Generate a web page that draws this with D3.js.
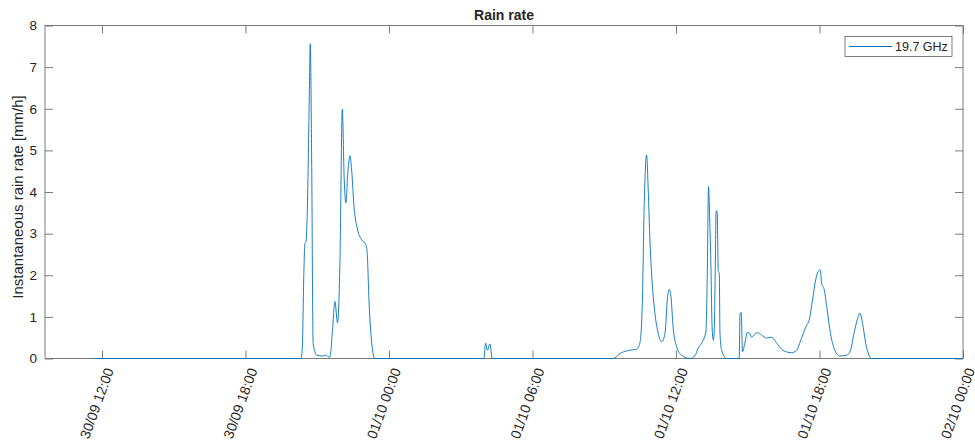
<!DOCTYPE html>
<html>
<head>
<meta charset="utf-8">
<script src="https://d3js.org/d3.v7.min.js"></script>
<style>
  body { margin: 0; background: #fff; }
  text { font-family: "Liberation Sans", Arial, sans-serif; fill: #262626; }
</style>
</head>
<body>
<div id="chart"></div>
<script>
// hours since 30/09 00:00
const hours = [11.67, 20.32, 20.38, 20.44, 20.49, 20.53, 20.58, 20.67, 20.71, 20.77,
  20.83, 20.98, 21.24, 21.35, 21.53, 21.64, 21.74, 21.85, 21.95, 22.05,
  22.13, 22.20, 22.27, 22.37, 22.44, 22.54, 22.69, 22.86, 23.04, 23.09,
  23.17, 23.28, 23.41,
  27.97, 28.04, 28.12, 28.22, 28.32,
  33.38, 33.66, 34.07, 34.35, 34.49, 34.59, 34.67, 34.77, 34.84, 34.91,
  34.98, 35.12, 35.26, 35.40, 35.54, 35.65, 35.72, 35.79, 35.88, 36.03,
  36.23, 36.58, 36.79, 36.93, 37.07, 37.25, 37.31, 37.36, 37.42, 37.46,
  37.51, 37.56, 37.60, 37.64, 37.68, 37.72, 37.77, 37.81, 37.84, 37.91,
  38.12, 38.64, 38.68, 38.73, 38.78, 38.88, 38.98, 39.06, 39.16, 39.26,
  39.40, 39.58, 39.79, 40.00, 40.21, 40.42, 40.62, 40.83, 41.04, 41.25,
  41.43, 41.57, 41.71, 41.84, 41.97, 42.03, 42.09, 42.20, 42.32, 42.46,
  42.64, 42.85, 43.13, 43.30, 43.44, 43.58, 43.69, 43.80, 43.93, 44.07,
  44.18, 48.0]
const rate = [0, 0, 0.3, 2.0, 2.78, 2.8, 3.41, 6.29, 7.56, 4.7,
  0.37, 0.08, 0.06, 0.08, 0.03, 0.68, 1.37, 0.86, 2.3, 5.99,
  4.29, 3.74, 4.37, 4.87, 4.53, 3.65, 3.09, 2.85, 2.73, 2.54,
  1.33, 0.37, 0,
  0, 0.37, 0.2, 0.35, 0,
  0, 0.12, 0.2, 0.22, 0.37, 1.25, 3.65, 4.89, 4.05, 2.85,
  2.05, 1.09, 0.6, 0.4, 0.6, 1.49, 1.66, 1.49, 0.76, 0.28,
  0.08, 0, 0.06, 0.25, 0.37, 0.64, 2.05, 4.13, 3.17, 2.25,
  0.76, 0.44, 0.68, 2.05, 3.55, 3.53, 2.09, 2.05, 0.6, 0.2,
  0, 0, 1.09, 1.1, 0.16, 0.37, 0.62, 0.62, 0.51, 0.56,
  0.62, 0.56, 0.49, 0.51, 0.37, 0.22, 0.16, 0.14, 0.2, 0.49,
  0.76, 0.93, 1.41, 1.89, 2.11, 2.13, 1.81, 1.65, 1.17, 0.6,
  0.2, 0.06, 0.08, 0.2, 0.6, 0.93, 1.09, 0.85, 0.37, 0.08,
  0, 0]
const xStartHour = 9.62
const xEndHour = 48
const yTicks = [0, 1, 2, 3, 4, 5, 6, 7, 8]
const seriesName = '19.7 GHz'

const width = 975, height = 441
const margin = {top: 25.5, right: 12, bottom: 82.5, left: 45}
const base = Date.UTC(2020, 8, 30)
const toDate = h => new Date(base + h * 3600 * 1000)
const data = hours.map((h, i) => ({t: toDate(h), v: rate[i]}))

const svg = d3.select('#chart').append('svg').attr('width', width).attr('height', height)

const x = d3.scaleUtc().domain([toDate(xStartHour), toDate(xEndHour)]).range([margin.left, width - margin.right])
const y = d3.scaleLinear().domain([0, 8]).range([height - margin.bottom, margin.top])

const axisColor = '#7a7a7a'
const tickLen = 8
const xTicks = d3.range(12, 49, 6).map(toDate)
const fmt = d3.utcFormat('%d/%m %H:%M')

// x axis bottom + top ticks
const xAxis = svg.append('g').attr('transform', `translate(0,${y(0)})`)
  .call(d3.axisBottom(x).tickValues(xTicks).tickSize(-tickLen).tickSizeOuter(0).tickFormat(fmt))
xAxis.selectAll('text')
  .attr('text-anchor', 'end')
  .attr('transform', `translate(7,10) rotate(-70)`)
  .attr('x', 0).attr('y', 0).attr('dy', '0.35em')
  .style('font-size', '14px')
svg.append('g').attr('transform', `translate(0,${margin.top})`)
  .call(d3.axisTop(x).tickValues(xTicks).tickSize(-tickLen).tickSizeOuter(0).tickFormat(''))

// y axis left + right ticks
svg.append('g').attr('transform', `translate(${margin.left},0)`)
  .call(d3.axisLeft(y).tickValues(yTicks).tickSize(-tickLen).tickSizeOuter(0).tickPadding(8))
  .selectAll('text').style('font-size', '13.5px')
svg.append('g').attr('transform', `translate(${width - margin.right},0)`)
  .call(d3.axisRight(y).tickValues(yTicks).tickSize(-tickLen).tickSizeOuter(0).tickFormat(''))

svg.selectAll('.domain').remove()
svg.selectAll('.tick line').attr('stroke', axisColor)
svg.selectAll('.tick text').attr('fill', '#262626').style('font-family', '"Liberation Sans", Arial, sans-serif')

svg.append('rect')
  .attr('x', margin.left).attr('y', margin.top)
  .attr('width', width - margin.right - margin.left)
  .attr('height', y(0) - margin.top)
  .attr('fill', 'none').attr('stroke', axisColor).attr('stroke-width', 1)

const line = d3.line().x(d => x(d.t)).y(d => y(d.v)).curve(d3.curveMonotoneX)
svg.append('path').datum(data)
  .attr('d', line)
  .attr('fill', 'none')
  .attr('stroke', '#0072BD')
  .attr('stroke-width', 0.9)

// title and labels
svg.append('text').attr('x', 504).attr('y', 20)
  .attr('text-anchor', 'middle').style('font-size', '14px').style('font-weight', 'bold')
  .text('Rain rate')
svg.append('text')
  .attr('transform', `translate(23,197) rotate(-90)`)
  .attr('text-anchor', 'middle').style('font-size', '15px')
  .text('Instantaneous rain rate [mm/h]')

// legend
const lg = svg.append('g').attr('transform', 'translate(845,36.5)')
lg.append('rect').attr('width', 107).attr('height', 20).attr('fill', '#fff').attr('stroke', '#262626').attr('stroke-width', 0.6)
lg.append('line').attr('x1', 4).attr('x2', 47).attr('y1', 10).attr('y2', 10).attr('stroke', '#0072BD').attr('stroke-width', 1)
lg.append('text').attr('x', 50).attr('y', 10).attr('dy', '0.35em').style('font-size', '12.5px').text(seriesName)
</script>
</body>
</html>
